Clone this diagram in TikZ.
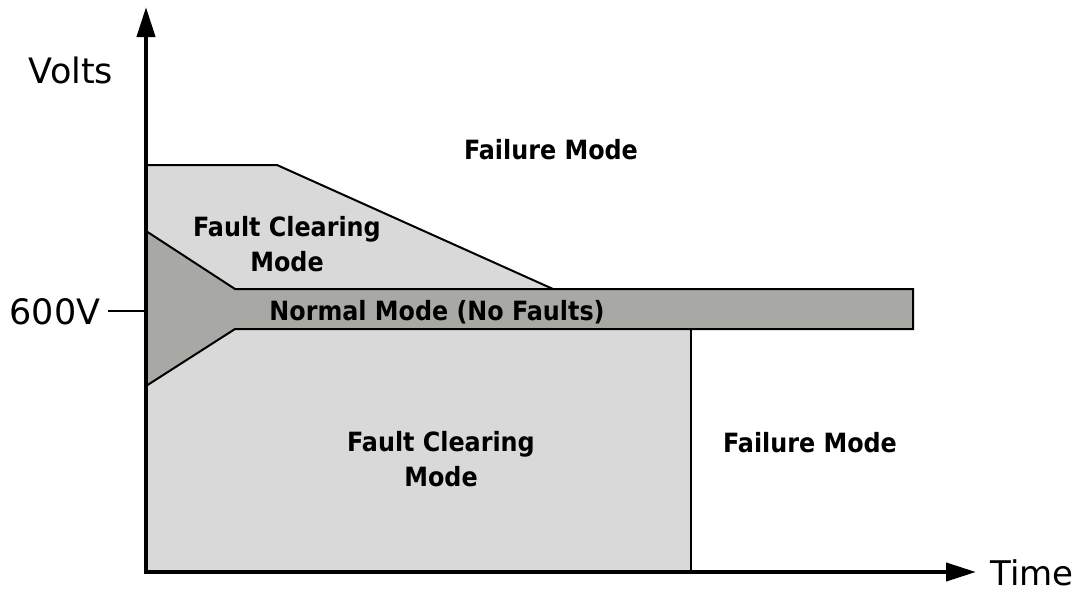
\documentclass[tikz,border=0pt]{standalone}
\usepackage{fontspec}
\setmainfont{DejaVu Sans}
\newfontfamily\condfont{DejaVu Sans Condensed}
\usetikzlibrary{arrows.meta}
\definecolor{lightg}{HTML}{D9D9D9}
\definecolor{darkg}{HTML}{A8A8A4}
\tikzset{
  lbl/.style={font=\condfont\bfseries\fontsize{26.5}{35}\selectfont, align=center, inner sep=0pt},
  axlbl/.style={font=\fontsize{35}{40}\selectfont, inner sep=0pt},
  region/.style={draw=black, line width=2pt, line join=miter},
  axis/.style={line width=4pt, -{Triangle[length=30pt,width=18pt]}}
}
\begin{document}
\begin{tikzpicture}[x=1pt,y=-1pt]
\useasboundingbox (0,0) rectangle (1086,592);
% coordinates
\coordinate (O) at (146,572);
\coordinate (Ytop) at (146,7);
\coordinate (Xend) at (976,572);
% upper fault clearing region
\fill[lightg] (148,165) -- (277,165) -- (553,289) -- (235,289) -- (148,232) -- cycle;
\draw[region] (146,165) -- (277,165) -- (553,289);
% lower fault clearing region
\fill[lightg] (148,385) -- (235,329) -- (691,329) -- (691,570) -- (148,570) -- cycle;
% normal band and triangle
\fill[darkg] (148,232) -- (235,289) -- (913,289) -- (913,329) -- (235,329) -- (148,385) -- cycle;
\draw[region] (146,231) -- (235,289) -- (913,289) -- (913,329) -- (235,329) -- (146,386);
\draw[line width=1.5pt] (691,329) -- (691,570);
% axes
\draw[axis] (O) -- (Ytop);
\draw[axis] ([xshift=-2pt]O) -- (Xend);
% tick
\coordinate (T1) at (108,311);
\coordinate (T2) at (144,311);
\draw[line width=1.5pt] (T1) -- (T2);
% labels
\node[axlbl] (volts) at (71,70) {Volts};
\node[axlbl] (v600) at (55,312) {600V};
\node[axlbl, font=\fontsize{34}{38}\selectfont] (time) at (1032,573) {Time};
\node[lbl] (fail1) at (551,150) {Failure Mode};
\node[lbl] (fc1) at (287,244) {Fault Clearing\\Mode};
\node[lbl] (normal) at (437,312) {Normal Mode (No Faults)};
\node[lbl] (fc2) at (441,459) {Fault Clearing\\Mode};
\node[lbl] (fail2) at (810,443) {Failure Mode};
\end{tikzpicture}
\end{document}
